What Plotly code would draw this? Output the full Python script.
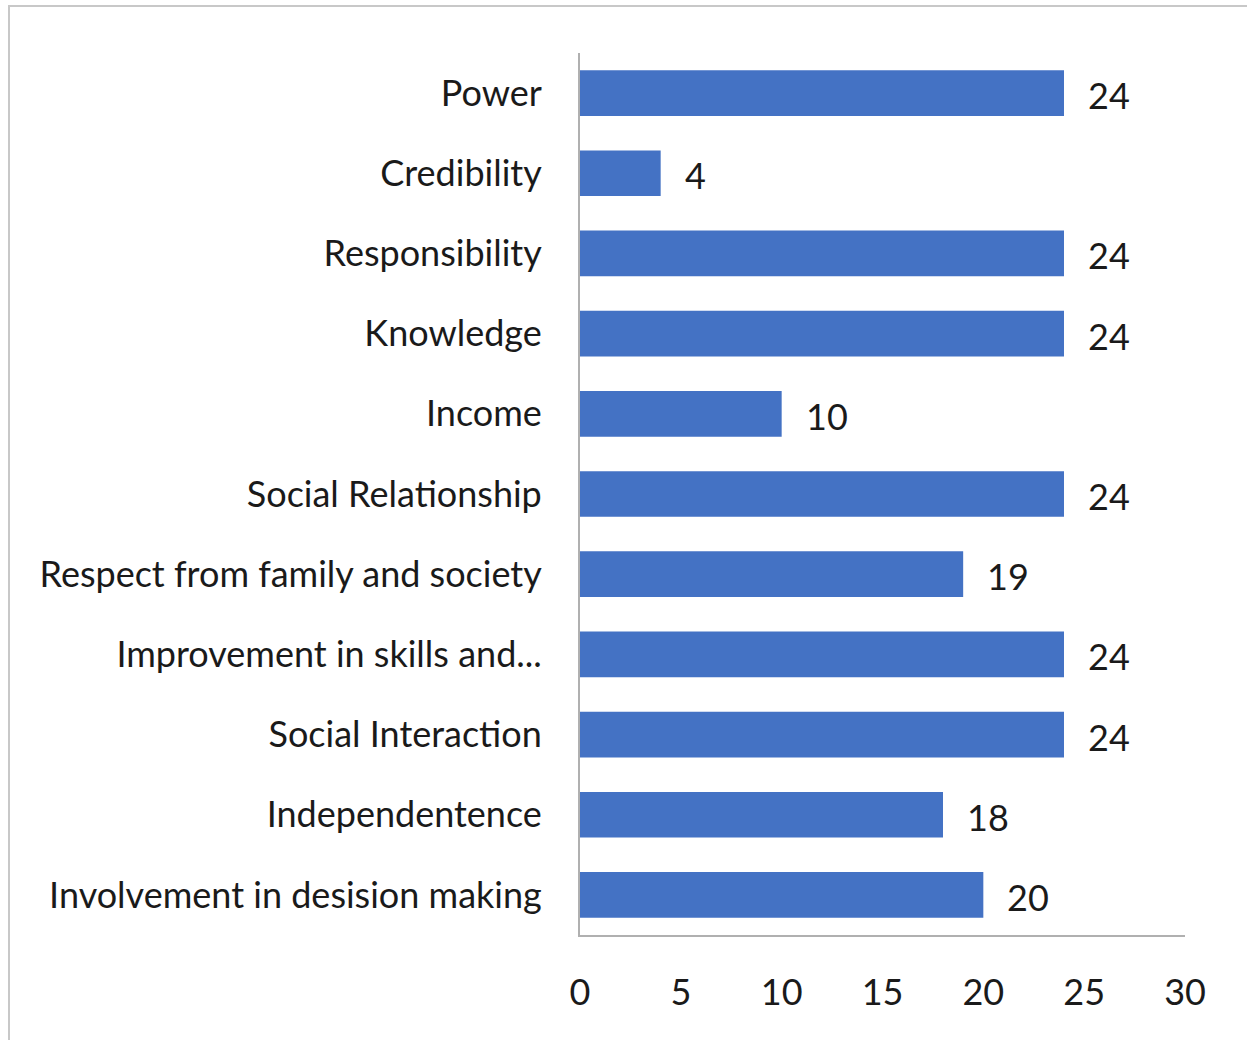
import plotly.graph_objects as go

categories = [
    "Power",
    "Credibility",
    "Responsibility",
    "Knowledge",
    "Income",
    "Social Relationship",
    "Respect from family and society",
    "Improvement in skills and...",
    "Social Interaction",
    "Independentence",
    "Involvement in desision making",
]
values = [24, 4, 24, 24, 10, 24, 19, 24, 24, 18, 20]
x_ticks = [0, 5, 10, 15, 20, 25, 30]

W, H = 1247, 1040
L, R, T, B = 580, 62, 53, 105
pw = W - L - R
ph = H - T - B
FONT = "Lato"
FS = 36

fig = go.Figure()
fig.add_trace(go.Bar(
    y=categories,
    x=values,
    orientation="h",
    marker=dict(color="#4472C4", line=dict(width=0)),
    width=0.57,
    hoverinfo="x+y",
))

for c, v in zip(categories, values):
    fig.add_annotation(x=v, y=c, text=str(v), showarrow=False,
                       xanchor="left", yanchor="middle", xshift=22, yshift=-2,
                       font=dict(size=FS, color="#1a1a1a", family=FONT))

def px_x(p):
    return (p - L) / pw

def px_y(p):
    return (H - B - p) / ph

fig.add_shape(type="rect", xref="paper", yref="paper",
              x0=px_x(9), x1=px_x(W + 10), y0=px_y(H + 10), y1=px_y(6),
              line=dict(color="#c8c8c8", width=2), fillcolor="rgba(0,0,0,0)", layer="below")

fig.update_layout(
    width=W, height=H,
    margin=dict(l=L, r=R, t=T, b=B),
    paper_bgcolor="white",
    plot_bgcolor="white",
    showlegend=False,
    font=dict(family=FONT, size=FS, color="#1a1a1a"),
    xaxis=dict(range=[0, 30], tickvals=x_ticks, ticktext=[str(t) for t in x_ticks],
               showgrid=False, zeroline=False, showline=True, linecolor="#b0b0b0", linewidth=2,
               ticks="", ticklabelstandoff=25, tickfont=dict(size=FS), fixedrange=True),
    yaxis=dict(categoryorder="array", categoryarray=categories[::-1],
               showgrid=False, zeroline=False, showline=True, linecolor="#b0b0b0", linewidth=2,
               ticks="", ticklabelstandoff=29, tickfont=dict(size=FS),
               range=[-0.5, len(categories) - 0.5], fixedrange=True),
)

fig.write_html("out.html", config={"displayModeBar": False},
               post_script="document.body.style.margin='0';document.body.style.overflow='hidden';")
